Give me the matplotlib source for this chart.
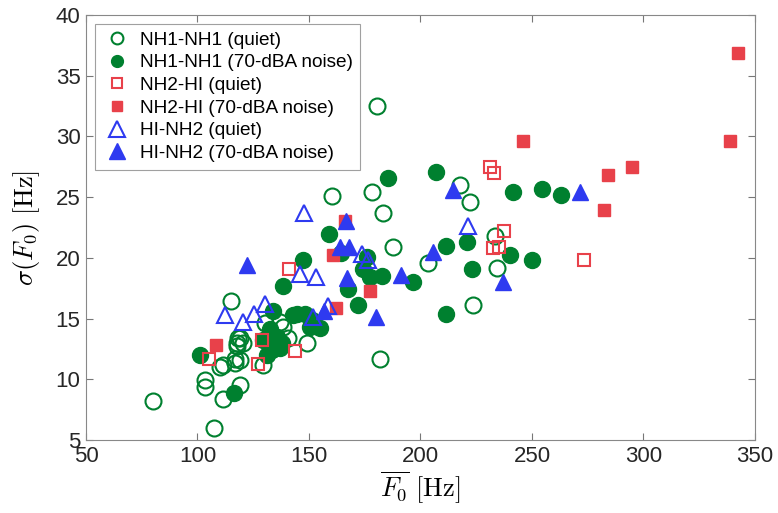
import matplotlib.pyplot as plt

plt.rcParams['font.family'] = ['Liberation Sans', 'DejaVu Sans']
plt.rcParams['mathtext.fontset'] = 'cm'

# NH1-NH1 quiet (open green circles)
nh1_q_x = [80.2, 103.4, 103.4, 107.5, 110, 111.6, 111.6, 115, 116.8, 116.8, 117.6, 117.6,
           118.3, 119, 119, 119, 120.5, 129.5, 130.3, 137, 138.5, 140.7, 149, 160.2,
           178.1, 180.4, 181.8, 183.3, 187.5, 203.5, 217.7, 222.2, 223.7, 233.4, 234.1]
nh1_q_y = [8.2, 9.9, 9.35, 6.0, 11.0, 11.2, 8.4, 16.45, 11.3, 11.7, 12.7, 13.0,
           13.4, 13.4, 11.6, 9.5, 13.0, 11.2, 14.6, 14.75, 14.3, 13.4, 13.0, 25.1,
           25.4, 32.5, 11.65, 23.7, 20.9, 19.6, 26.0, 24.6, 16.1, 21.8, 19.2]

# NH1-NH1 noise (filled green circles)
nh1_n_x = [101.1, 116.5, 129.5, 131, 132.5, 133.3, 133.3, 134, 135.5, 137, 137.7, 138.2,
           143, 144.5, 147.5, 148.2, 150.4, 151.2, 155, 159.1, 164.2, 167.6, 172.1, 174.4,
           175.8, 177.4, 182.6, 185.3, 196.8, 206.8, 211.4, 211.3, 220.7, 223, 240.1, 241.3,
           249.8, 254.3, 263.2]
nh1_n_y = [12.0, 8.9, 13.2, 12.0, 14.1, 13.1, 12.4, 15.6, 13.5, 12.55, 13.0, 17.7,
           15.3, 15.4, 19.8, 15.4, 14.3, 14.9, 14.2, 22.0, 20.4, 17.4, 16.1, 19.1,
           20.1, 18.45, 18.5, 26.6, 18.0, 27.1, 21.0, 15.4, 21.3, 19.1, 20.2, 25.4,
           19.8, 25.7, 25.2]

# NH2-HI quiet (open red squares)
nh2_q_x = [105, 127.3, 128.8, 141.2, 143.7, 231.2, 233, 232.6, 235, 237.4, 273.2]
nh2_q_y = [11.65, 11.25, 13.2, 19.05, 12.3, 27.45, 27.0, 20.8, 20.9, 22.2, 19.8]

# NH2-HI noise (filled red squares)
nh2_n_x = [108.3, 162.1, 160.6, 166.1, 177.4, 246.1, 282.3, 283.9, 295, 338.8, 342.2]
nh2_n_y = [12.8, 15.9, 20.2, 23.0, 17.3, 29.6, 23.9, 26.8, 27.5, 29.6, 36.9]

# HI-NH2 quiet (open blue triangles)
hi_q_x = [112.3, 120.5, 125.3, 130.3, 146, 147.9, 151.9, 153.1, 158.7, 173.6, 176.3, 221.5]
hi_q_y = [15.3, 14.7, 15.4, 16.2, 18.7, 23.7, 15.1, 18.4, 16.0, 20.3, 19.8, 22.6]

# HI-NH2 noise (filled blue triangles)
hi_n_x = [122.1, 156.7, 166.8, 163.9, 168.1, 167.2, 180, 191.3, 205.8, 214.7, 237.1, 271.5]
hi_n_y = [19.4, 15.6, 23.0, 20.9, 20.9, 18.3, 15.1, 18.6, 20.5, 25.6, 18.0, 25.4]

green = '#00802f'
red = '#e8414a'
blue = '#2e3af0'

fig = plt.figure(figsize=(7.78, 5.13), dpi=100)
ax = fig.add_axes([0.1105, 0.1423, 0.8599, 0.8285])

ax.plot(nh1_q_x, nh1_q_y, 'o', ms=11.5, mfc='none', mec=green, mew=1.5, ls='none', label='NH1-NH1 (quiet)')
ax.plot(nh1_n_x, nh1_n_y, 'o', ms=11.5, mfc=green, mec=green, ls='none', label='NH1-NH1 (70-dBA noise)')
ax.plot(nh2_q_x, nh2_q_y, 's', ms=8.6, mfc='none', mec=red, mew=1.5, ls='none', label='NH2-HI (quiet)')
ax.plot(nh2_n_x, nh2_n_y, 's', ms=8.6, mfc=red, mec=red, ls='none', label='NH2-HI (70-dBA noise)')
ax.plot(hi_q_x, hi_q_y, '^', ms=11.5, mfc='none', mec=blue, mew=1.5, ls='none', label='HI-NH2 (quiet)')
ax.plot(hi_n_x, hi_n_y, '^', ms=11.5, mfc=blue, mec=blue, ls='none', label='HI-NH2 (70-dBA noise)')

ax.set_xlim(50, 350)
ax.set_ylim(5, 40)
ax.set_xticks(range(50, 351, 50))
ax.set_yticks(range(5, 41, 5))
ax.tick_params(direction='in', top=True, right=True, length=5, width=0.8,
               color='#777777', labelsize=16, labelcolor='#262626', pad=4)
for s in ax.spines.values():
    s.set_color('#888888')
    s.set_linewidth(0.8)

ax.set_xlabel(r'$\overline{F_0}\ [\mathrm{Hz}]$', fontsize=19, labelpad=2)
ax.set_ylabel(r'$\sigma(F_0)\ [\mathrm{Hz}]$', fontsize=19, labelpad=10)

leg = ax.legend(loc='upper left', bbox_to_anchor=(0.0135, 0.979), borderaxespad=0,
                fontsize=13.7, frameon=True, fancybox=False, edgecolor='#888888',
                handlelength=1.5, handletextpad=0.45, labelspacing=0.28, borderpad=0.4)
leg.get_frame().set_linewidth(0.8)
for h in leg.legend_handles:
    if h.get_marker() == '^':
        h.set_markersize(11)
    else:
        h.set_markersize(8.5 if h.get_marker() == 'o' else 7)

fig.savefig('out.png', dpi=100)
